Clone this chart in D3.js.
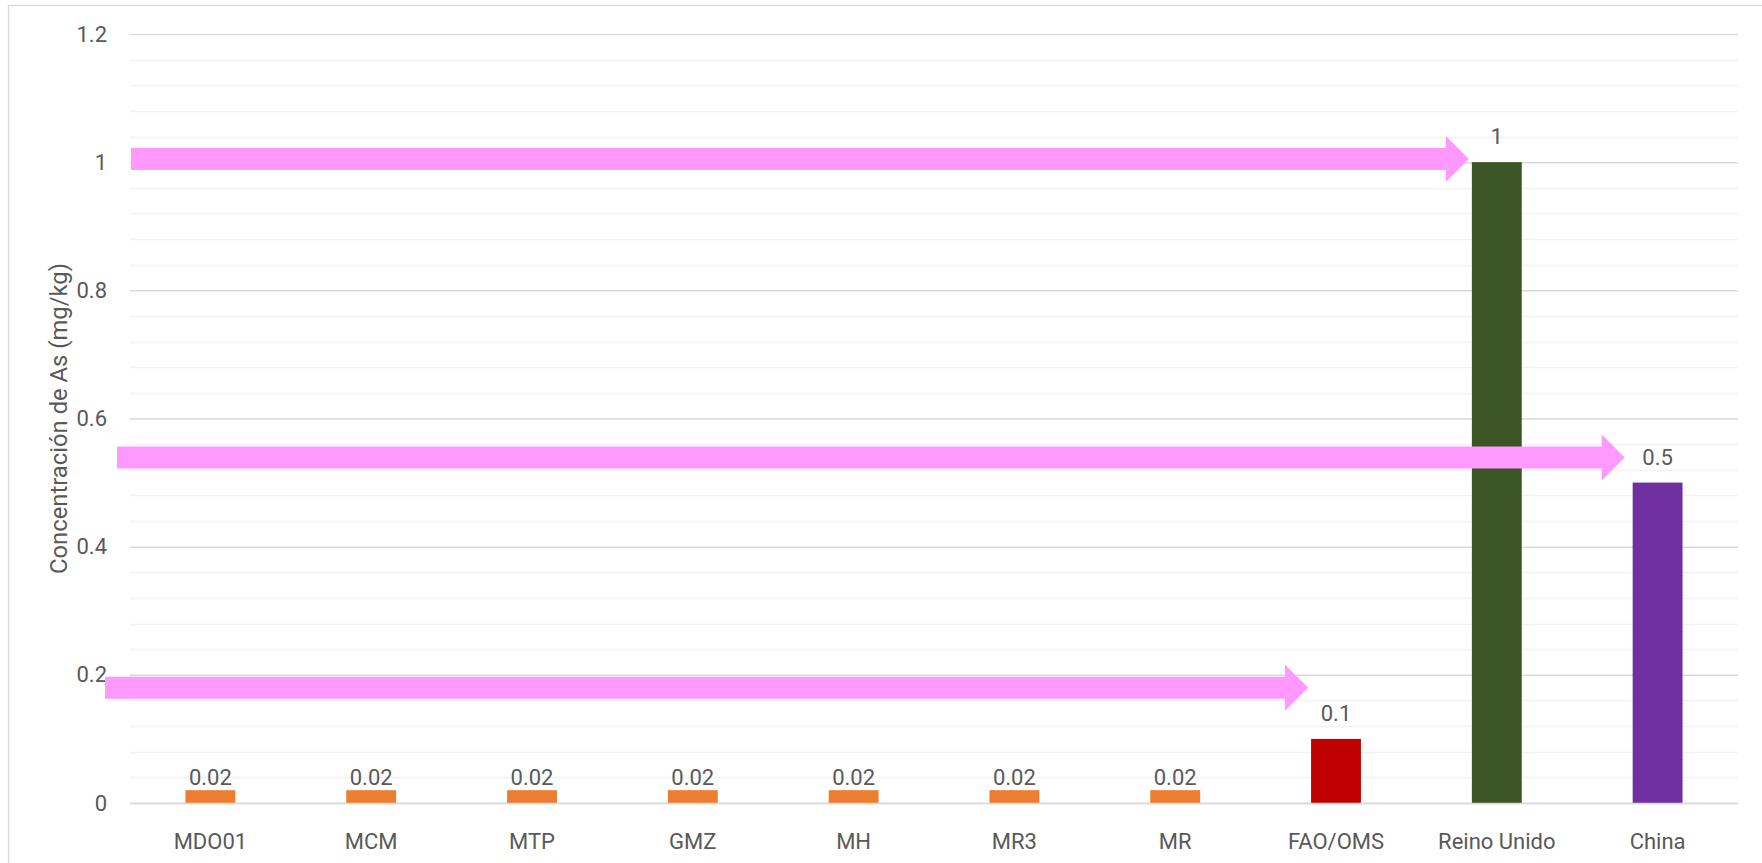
<!DOCTYPE html>
<html>
<head>
<meta charset="utf-8">
<script src="https://cdn.jsdelivr.net/npm/d3@7"></script>
<style>
  html, body { margin: 0; padding: 0; background: #fff; }
  svg { display: block; }
  text { font-family: Roboto, "Noto Sans", sans-serif; fill: #595959; }
</style>
</head>
<body>
<svg id="chart" width="1762" height="863"></svg>
<script>
// ---- data ----
const categories = ["MDO01", "MCM", "MTP", "GMZ", "MH", "MR3", "MR", "FAO/OMS", "Reino Unido", "China"];
const values = [0.02, 0.02, 0.02, 0.02, 0.02, 0.02, 0.02, 0.1, 1, 0.5];
const barColors = ["#ED7D31", "#ED7D31", "#ED7D31", "#ED7D31", "#ED7D31", "#ED7D31", "#ED7D31", "#C00000", "#3B5524", "#7030A0"];
const yTicks = [0, 0.2, 0.4, 0.6, 0.8, 1, 1.2];
const yTitle = "Concentración de As (mg/kg)";
// annotation arrows: reference category they point to and level (data units) of the arrow
const arrowTargets = ["Reino Unido", "China", "FAO/OMS"];
const arrowLevels = [1.005, 0.539, 0.18];

// ---- layout ----
const W = 1762, H = 863;
const plot = { left: 130, right: 1738, top: 34, bottom: 803 };
const svg = d3.select("#chart");

svg.append("rect")
  .attr("x", 8.5).attr("y", 5.5)
  .attr("width", W + 20).attr("height", H + 20)
  .attr("fill", "#fff").attr("stroke", "#D9D9D9").attr("stroke-width", 1.5);

const x = d3.scaleBand().domain(categories)
  .range([plot.left, plot.right]).paddingInner(0.69).paddingOuter(0.345);
const y = d3.scaleLinear().domain([0, 1.2]).range([plot.bottom, plot.top]);

// minor gridlines
const minor = d3.range(0, 1.2001, 0.04).filter(v => !yTicks.some(t => Math.abs(t - v) < 1e-6));
svg.append("g").selectAll("line").data(minor).join("line")
  .attr("x1", plot.left).attr("x2", plot.right)
  .attr("y1", d => Math.round(y(d)) + 0.5).attr("y2", d => Math.round(y(d)) + 0.5)
  .attr("stroke", "#F2F2F2").attr("stroke-width", 1.5);

// y axis with major gridlines
const yAxis = d3.axisLeft(y).tickValues(yTicks).tickFormat(d3.format("~g"))
  .tickSize(-(plot.right - plot.left)).tickPadding(23);
const gy = svg.append("g").attr("transform", `translate(${plot.left},0)`).call(yAxis);
gy.select(".domain").remove();
gy.selectAll(".tick line").attr("stroke", "#D9D9D9").attr("stroke-width", 1.5);
gy.selectAll(".tick text").attr("font-size", 22).attr("fill", "#595959")
  .style("font-family", "Roboto, 'Noto Sans', sans-serif");

// bars
svg.append("g").selectAll("rect").data(categories).join("rect")
  .attr("x", d => x(d)).attr("width", x.bandwidth())
  .attr("y", (d, i) => y(values[i]))
  .attr("height", (d, i) => y(0) - y(values[i]))
  .attr("fill", (d, i) => barColors[i]);

// x axis
const xAxis = d3.axisBottom(x).tickSize(0).tickPadding(30);
const gx = svg.append("g").attr("transform", `translate(0,${plot.bottom})`).call(xAxis);
gx.select(".domain").attr("stroke", "#D9D9D9").attr("stroke-width", 1.5)
  .attr("d", `M${plot.left},0.5H${plot.right}`);
gx.selectAll(".tick text").attr("font-size", 22).attr("fill", "#595959")
  .style("font-family", "Roboto, 'Noto Sans', sans-serif");

// value labels
svg.append("g").selectAll("text").data(categories).join("text")
  .attr("x", d => x(d) + x.bandwidth() / 2)
  .attr("y", (d, i) => y(values[i]) - (values[i] > 0.05 ? 18 : 5))
  .attr("text-anchor", "middle").attr("font-size", 22)
  .text((d, i) => d3.format("~g")(values[i]));

// y title
svg.append("text")
  .attr("transform", `translate(67,${(plot.top + plot.bottom) / 2}) rotate(-90)`)
  .attr("text-anchor", "middle").attr("font-size", 23.8)
  .text(yTitle);

// annotation arrows
const arrowStarts = [131, 117, 105];
const shaftHalf = 11, headHalf = 23, headLen = 23;
arrowTargets.forEach((t, i) => {
  const tip = x(t) - (t === "China" ? 8 : 3);
  const cy = y(arrowLevels[i]);
  const x0 = arrowStarts[i];
  const base = tip - headLen;
  const path = d3.path();
  path.moveTo(x0, cy - shaftHalf);
  path.lineTo(base, cy - shaftHalf);
  path.lineTo(base, cy - headHalf);
  path.lineTo(tip, cy);
  path.lineTo(base, cy + headHalf);
  path.lineTo(base, cy + shaftHalf);
  path.lineTo(x0, cy + shaftHalf);
  path.closePath();
  svg.append("path").attr("d", path.toString()).attr("fill", "#FF99FF");
});
</script>
</body>
</html>
